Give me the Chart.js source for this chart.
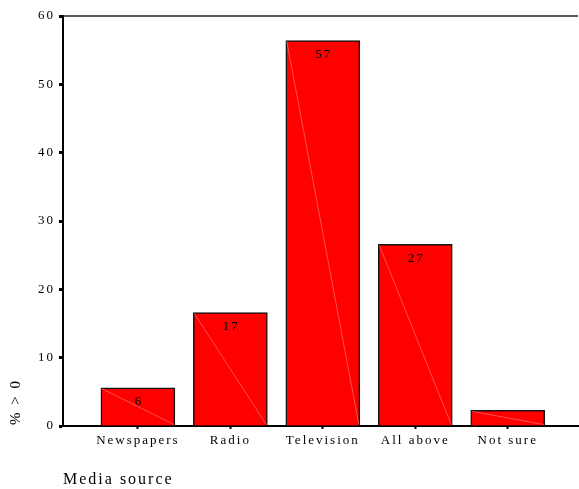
<!DOCTYPE html>
<html>
<head>
<meta charset="utf-8">
<script src="https://cdn.jsdelivr.net/npm/chart.js@4"></script>
<style>
  html, body { margin: 0; padding: 0; background: #fff; }
  #wrap { width: 579px; height: 489px; }
</style>
</head>
<body>
<div id="wrap"><canvas id="grafica" width="579" height="489"></canvas></div>
<script>
// datos
const categories = ['Newspapers', 'Radio', 'Television', 'All above', 'Not sure'];
const percentages = [5.6, 16.6, 56.4, 26.6, 2.3];
const valueLabels = ['6', '17', '57', '27', ''];
const yTicks = [0, 10, 20, 30, 40, 50, 60];

const serif = '"Liberation Serif", "Times New Roman", serif';

// espaciado de letras como en el original
const spacing = {
    id: 'spacing',
    beforeLayout(chart) { chart.ctx.letterSpacing = '2px'; },
    beforeDraw(chart) { chart.ctx.letterSpacing = '2px'; }
};

// linea de arriba, diagonales en las barras, valores y titulo del eje y
const extras = {
    id: 'extras',
    afterDatasetsDraw(chart) {
        const ctx = chart.ctx;
        const area = chart.chartArea;
        const bars = chart.getDatasetMeta(0).data;
        ctx.save();
        ctx.strokeStyle = 'rgba(255,190,190,0.7)';
        ctx.lineWidth = 0.6;
        bars.forEach(b => {
            const half = b.width / 2;
            ctx.beginPath();
            ctx.moveTo(b.x - half + 1, b.y + 1);
            ctx.lineTo(b.x + half - 1, b.base - 1);
            ctx.stroke();
        });
        ctx.fillStyle = '#000';
        ctx.font = '13px ' + serif;
        ctx.textAlign = 'center';
        ctx.textBaseline = 'middle';
        bars.forEach((b, i) => {
            if (valueLabels[i]) ctx.fillText(valueLabels[i], b.x + 1, b.y + 14);
        });
        ctx.strokeStyle = '#222';
        ctx.lineWidth = 1.5;
        ctx.beginPath();
        ctx.moveTo(area.left, area.top);
        ctx.lineTo(area.right, area.top);
        ctx.stroke();
        ctx.translate(16, 402);
        ctx.rotate(-Math.PI / 2);
        ctx.font = '15px ' + serif;
        ctx.fillText('% > 0', 0, 0);
        ctx.restore();
    }
};

new Chart(document.getElementById('grafica').getContext('2d'), {
    type: 'bar',
    data: {
        datasets: [{
            data: percentages.map((v, i) => ({ x: i, y: v })),
            backgroundColor: '#ff0000',
            borderColor: '#151515',
            borderWidth: 1.5,
            barThickness: 74
        }]
    },
    options: {
        responsive: false,
        animation: false,
        events: [],
        layout: { padding: { top: 16, right: 1, left: 0, bottom: 0 } },
        plugins: { legend: { display: false }, tooltip: { enabled: false } },
        scales: {
            x: {
                type: 'linear',
                offset: false,
                min: -0.81,
                max: 4.76,
                afterBuildTicks: s => { s.ticks = categories.map((c, i) => ({ value: i })); },
                afterFit: s => { s.height = 63; },
                border: { color: '#000', width: 2 },
                grid: { offset: false, drawOnChartArea: false, tickLength: 3, tickWidth: 2, tickColor: '#000' },
                ticks: {
                    autoSkip: false,
                    maxRotation: 0,
                    padding: 4,
                    color: '#000',
                    font: { family: serif, size: 13 },
                    callback: v => categories[v]
                },
                title: {
                    display: true,
                    text: 'Media source',
                    align: 'start',
                    color: '#000',
                    font: { family: serif, size: 16 },
                    padding: { top: 0, bottom: 0 }
                }
            },
            y: {
                min: 0,
                max: 60,
                afterBuildTicks: s => { s.ticks = yTicks.map(v => ({ value: v })); },
                afterFit: s => { s.width = 63; },
                border: { color: '#000', width: 2 },
                grid: { drawOnChartArea: false, tickLength: 4, tickWidth: 3, tickColor: '#000' },
                ticks: {
                    padding: 4,
                    color: '#000',
                    font: { family: serif, size: 13 }
                }
            }
        }
    },
    plugins: [spacing, extras]
});
</script>
</body>
</html>
